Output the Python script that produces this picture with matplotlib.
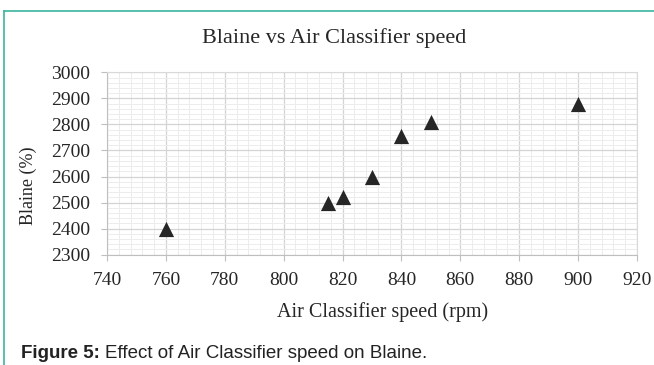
import matplotlib.pyplot as plt
from matplotlib.lines import Line2D
from matplotlib.ticker import MultipleLocator

speed = [760, 815, 820, 830, 840, 850, 900]
blaine = [2400, 2500, 2520, 2600, 2755, 2808, 2880]

W, H = 654, 365
fig = plt.figure(figsize=(W / 100, H / 100), dpi=100)
ax = fig.add_axes([107 / W, 1 - 254.5 / H, 530 / W, 182 / H])

ax.scatter(speed, blaine, marker='^', s=120, color='#262626', zorder=3, linewidths=0)

ax.set_xlim(740, 920)
ax.set_ylim(2300, 3000)
ax.xaxis.set_major_locator(MultipleLocator(20))
ax.xaxis.set_minor_locator(MultipleLocator(4))
ax.yaxis.set_major_locator(MultipleLocator(100))
ax.yaxis.set_minor_locator(MultipleLocator(20))
ax.grid(which='major', color='#d4d4d4', linewidth=0.9)
ax.grid(which='minor', color='#ececec', linewidth=0.7)
ax.set_axisbelow(True)
for side in ['top', 'right']:
    ax.spines[side].set_color('#d9d9d9')
for side in ['left', 'bottom']:
    ax.spines[side].set_color('#bfbfbf')
ax.tick_params(which='both', length=0, labelsize=14, colors='#262626')
ax.tick_params(which='major', length=4, color='#bfbfbf')
ax.tick_params(axis='y', pad=8)
ax.tick_params(axis='x', pad=8.5)
for lab in ax.get_xticklabels() + ax.get_yticklabels():
    lab.set_family('Liberation Serif')

fig.text(28 / W, 1 - 186 / H, 'Blaine (%)', family='Liberation Serif', fontsize=13, color='#262626',
         rotation=90, ha='center', va='center')
fig.text(383 / W, 1 - 312 / H, 'Air Classifier speed (rpm)', family='Liberation Serif', fontsize=14.5,
         color='#262626', ha='center', va='center')
fig.text(334 / W, 1 - 38 / H, 'Blaine vs Air Classifier speed', family='Liberation Serif', fontsize=16,
         color='#262626', ha='center', va='center')

# caption: bold label followed by regular text
cap_y = 1 - 353 / H
bold = fig.text(21 / W, cap_y, 'Figure 5:', family='Liberation Sans', fontsize=13.5, weight='bold',
                color='#222222', va='center')
fig.canvas.draw()
bb = bold.get_window_extent(renderer=fig.canvas.get_renderer())
fig.text((bb.x1 + 5) / W, cap_y, 'Effect of Air Classifier speed on Blaine.', family='Liberation Sans',
         fontsize=13.5, color='#222222', va='center')

teal = '#3ab5a0'
fig.add_artist(Line2D([4 / W, 1], [1 - 11 / H, 1 - 11 / H], color=teal, linewidth=1.2, transform=fig.transFigure))
fig.add_artist(Line2D([4 / W, 4 / W], [0, 1 - 11 / H], color=teal, linewidth=1.2, transform=fig.transFigure))

fig.savefig('out.png', dpi=100)
